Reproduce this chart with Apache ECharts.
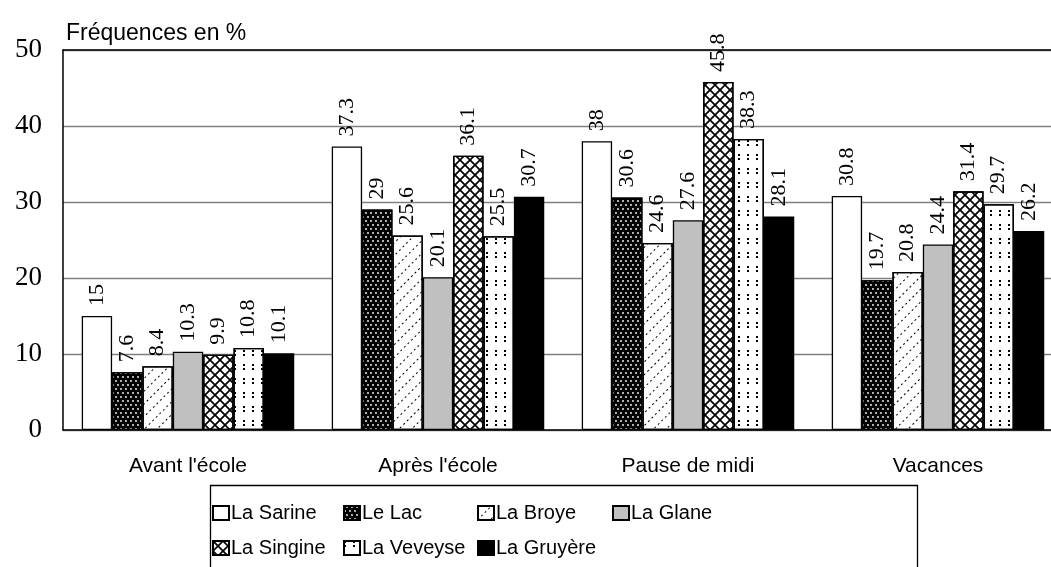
<!DOCTYPE html>
<html>
<head>
<meta charset="utf-8">
<script src="https://cdn.jsdelivr.net/npm/echarts@6/dist/echarts.min.js"></script>
<style>
  html, body { margin: 0; padding: 0; background: #fff; }
  #chart { width: 1051px; height: 567px; }
</style>
</head>
<body>
<div id="chart"></div>
<script>
// données
const categories = ["Avant l'école", "Après l'école", "Pause de midi", "Vacances"];
const sarine  = [15, 37.3, 38, 30.8];
const lac     = [7.6, 29, 30.6, 19.7];
const broye   = [8.4, 25.6, 24.6, 20.8];
const glane   = [10.3, 20.1, 27.6, 24.4];
const singine = [9.9, 36.1, 45.8, 31.4];
const veveyse = [10.8, 25.5, 38.3, 29.7];
const gruyere = [10.1, 30.7, 28.1, 26.2];
const seriesNames = ["La Sarine", "Le Lac", "La Broye", "La Glane", "La Singine", "La Veveyse", "La Gruyère"];
const yTicks = [0, 10, 20, 30, 40, 50];

const serif = "'Liberation Serif', 'Times New Roman', serif";
const sans = "'Liberation Sans', Arial, sans-serif";

// motifs (remplissages) de chaque série
const styles = [
  { color: "#fff" },
  { color: "#000", decal: { symbol: "circle", symbolSize: 0.9, color: "#fff",
      dashArrayX: [[1.6, 2.4], [0, 2, 1.6, 0.4]], dashArrayY: [1.6, 1.6] } },
  { color: "#fff", decal: { symbol: "rect", symbolSize: 1, color: "#000", rotation: -Math.PI / 4,
      dashArrayX: [1.5, 2.5], dashArrayY: [1, 8] } },
  { color: "#c0c0c0" },
  { color: "#fff", decal: { symbol: "path://M0,0L1.2,0L10,8.8L10,10L8.8,10L0,1.2Z M8.8,0L10,0L10,1.2L1.2,10L0,10L0,8.8Z",
      symbolSize: 1, color: "#000", dashArrayX: [10, 0], dashArrayY: [10, 0] } },
  { color: "#fff", decal: { symbol: "rect", symbolSize: 1, color: "#000",
      dashArrayX: [1.5, 7], dashArrayY: [1.5, 2, 1.5, 8] } },
  { color: "#000" }
];
const values = [sarine, lac, broye, glane, singine, veveyse, gruyere];

const series = seriesNames.map((name, i) => ({
  name: name,
  type: "bar",
  data: values[i],
  barGap: "0%",
  barCategoryGap: "15%",
  itemStyle: Object.assign({ borderColor: "#000", borderWidth: 1.3 }, styles[i]),
  label: {
    show: true,
    position: "top",
    rotate: 90,
    align: "left",
    verticalAlign: "middle",
    distance: 10,
    fontFamily: serif,
    fontSize: 22,
    color: "#000"
  }
}));

// légende: 4 colonnes, 2 lignes
const legendCols = [212, 343, 477, 612];
const legendRows = [503, 538];
const legends = seriesNames.map((name, i) => ({
  data: [{ name: name, icon: "rect" }],
  left: legendCols[i % 4],
  top: legendRows[Math.floor(i / 4)],
  padding: 0,
  itemWidth: 16,
  itemHeight: 14,
  itemGap: 2,
  textStyle: { fontFamily: sans, fontSize: 20, color: "#000", padding: [0, 0, 0, -3] },
  selectedMode: false
}));

const chart = echarts.init(document.getElementById("chart"));
chart.setOption({
  animation: false,
  backgroundColor: "#fff",
  title: {
    text: "Fréquences en %",
    left: 61,
    top: 17,
    textStyle: { fontFamily: sans, fontSize: 23, fontWeight: "normal", color: "#000" }
  },
  legend: legends,
  // la zone de tracé dépasse à droite (image rognée)
  grid: { left: 63, width: 1000, top: 50, bottom: 137, containLabel: false, outerBoundsMode: "none" },
  xAxis: [
    {
      type: "category",
      data: categories,
      axisLine: { lineStyle: { color: "#000", width: 1.5 } },
      axisTick: { show: false },
      axisLabel: { fontFamily: sans, fontSize: 21, color: "#000", margin: 26 }
    },
    {
      type: "category",
      position: "top",
      data: categories,
      axisLine: { lineStyle: { color: "#000", width: 1.5 } },
      axisTick: { show: false },
      axisLabel: { show: false }
    }
  ],
  yAxis: {
    type: "value",
    min: yTicks[0],
    max: yTicks[yTicks.length - 1],
    interval: 10,
    axisLine: { show: true, lineStyle: { color: "#000", width: 1.5 } },
    axisTick: { show: false },
    splitLine: { lineStyle: { color: "#808080", width: 1.3 } },
    axisLabel: { fontFamily: serif, fontSize: 27, color: "#000", margin: 21 }
  },
  graphic: [{
    type: "rect",
    left: 208,
    top: 483,
    shape: { width: 707, height: 100 },
    style: { fill: "none", stroke: "#000", lineWidth: 1.3 }
  }],
  series: series
});
</script>
</body>
</html>
